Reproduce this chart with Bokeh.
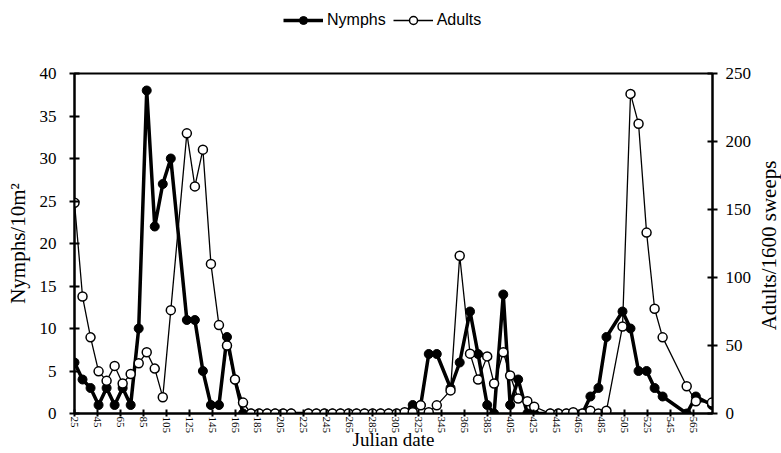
import math
from bokeh.plotting import figure
from bokeh.layouts import column, row
from bokeh.models import (Range1d, LinearAxis, FixedTicker, Legend, LegendItem,
                          ColumnDataSource, Label)
from bokeh.embed import file_html
from bokeh.resources import INLINE

# Sampling dates (Julian date) and counts
julian_date = [25, 32, 39, 46, 53, 60, 67, 74, 81, 88, 95, 102, 109,
               123, 130, 137, 144, 151, 158, 165, 172, 179, 186, 193, 200, 207, 214,
               229, 236, 243, 250, 257, 264, 271, 278, 285, 292, 299, 306, 313, 320, 327, 334, 341,
               353, 361, 370, 377, 385, 391, 399, 405, 412, 420, 426,
               440, 447, 454, 460, 468, 475, 482, 489,
               503, 510, 517, 524, 531, 538,
               559, 567, 581]

nymphs = [6, 4, 3, 1, 3, 1, 3, 1, 10, 38, 22, 27, 30,
          11, 11, 5, 1, 1, 9, 4, 0, 0, 0, 0, 0, 0, 0,
          0, 0, 0, 0, 0, 0, 0, 0, 0, 0, 0, 0, 0, 1, 1, 7, 7,
          3, 6, 12, 7, 1, 0, 14, 1, 4, 0, 0,
          0, 0, 0, 0, 0, 2, 3, 9,
          12, 10, 5, 5, 3, 2,
          0, 2, 1]

adults = [155, 86, 56, 31, 24, 35, 22, 29, 37, 45, 33, 12, 76,
          206, 167, 194, 110, 65, 50, 25, 8, 0, 0, 0, 0, 0, 0,
          0, 0, 0, 0, 0, 0, 0, 0, 0, 0, 0, 0, 1, 1, 6, 1, 6,
          17, 116, 44, 25, 42, 22, 45, 28, 11, 9, 5,
          0, 0, 0, 1, 0, 2, 0, 2,
          64, 235, 213, 133, 77, 56,
          20, 9, 8]

x_ticks = list(range(25, 566, 20))
nymph_ticks = list(range(0, 41, 5))
adult_ticks = list(range(0, 251, 50))

src = ColumnDataSource(dict(d=julian_date, n=nymphs, a=adults))

SERIF = "Liberation Serif"

# Page pieces: key strip on top, then the chart beside a strip for the right title
KEY_H = 42
SIDE_W = 22
MAIN_W = 781 - SIDE_W
MAIN_H = 453 - KEY_H
FRAME_TOP, FRAME_BOTTOM, FRAME_LEFT, FRAME_RIGHT = 73, 413, 74, 712

# Series styles, shared by the chart and the key strip
NYMPH_LINE = dict(line_color="black", line_width=3.5)
NYMPH_DOT = dict(size=9, marker="circle", fill_color="black", line_color="black", line_width=1)
ADULT_LINE = dict(line_color="black", line_width=1.3)
ADULT_DOT = dict(size=9, marker="circle", fill_color="white", line_color="black", line_width=1.5)


def strip(w, h, xr=(0, 1), yr=(0, 1)):
    f = figure(width=w, height=h, output_backend="svg", toolbar_location=None,
               x_range=Range1d(*xr), y_range=Range1d(*yr),
               min_border_left=0, min_border_right=0, min_border_top=0, min_border_bottom=0)
    f.axis.visible = False
    f.xgrid.visible = False
    f.ygrid.visible = False
    f.outline_line_color = None
    f.background_fill_color = "white"
    f.border_fill_color = "white"
    return f


p = figure(width=MAIN_W, height=MAIN_H, output_backend="svg", toolbar_location=None,
           x_range=Range1d(25, 581.5), y_range=Range1d(0, 40),
           min_border_left=FRAME_LEFT, min_border_right=MAIN_W - FRAME_RIGHT,
           min_border_top=FRAME_TOP - KEY_H,
           min_border_bottom=MAIN_H - (FRAME_BOTTOM - KEY_H))
p.extra_y_ranges = {"adults": Range1d(0, 250)}

p.xgrid.visible = False
p.ygrid.visible = False
p.outline_line_color = "black"
p.outline_line_width = 2
p.background_fill_color = "white"
p.border_fill_color = "white"


def style_axis(ax, label_size):
    ax.axis_line_color = "black"
    ax.axis_line_width = 2
    ax.major_tick_line_color = "black"
    ax.major_tick_line_width = 2
    ax.major_tick_in = 5
    ax.major_tick_out = 5
    ax.minor_tick_line_color = None
    ax.major_label_text_font = SERIF
    ax.major_label_text_font_size = label_size
    ax.major_label_text_color = "black"
    ax.axis_label_text_font = SERIF
    ax.axis_label_text_font_style = "normal"
    ax.axis_label_text_color = "black"


xa = p.xaxis[0]
xa.ticker = FixedTicker(ticks=x_ticks)
xa.major_label_orientation = "vertical"
xa.axis_label = "Julian date"
style_axis(xa, "11px")
xa.axis_label_text_font_size = "19px"
xa.major_tick_out = 3
xa.major_tick_in = 4
xa.major_label_standoff = 0
xa.axis_label_standoff = -7

ya = p.yaxis[0]
ya.ticker = FixedTicker(ticks=nymph_ticks)
ya.axis_label = "Nymphs/10m²"
style_axis(ya, "17px")
ya.axis_label_text_font_size = "21px"
ya.major_label_standoff = 13
ya.axis_label_standoff = 7

ra = LinearAxis(y_range_name="adults", ticker=FixedTicker(ticks=adult_ticks))
style_axis(ra, "17px")
ra.major_label_standoff = 8
p.add_layout(ra, "right")

# Nymphs: thick line with filled dots
p.line("d", "n", source=src, **NYMPH_LINE)
p.scatter("d", "n", source=src, **NYMPH_DOT)

# Adults: thin line with open dots, drawn on top
p.line("d", "a", source=src, y_range_name="adults", **ADULT_LINE)
p.scatter("d", "a", source=src, y_range_name="adults", **ADULT_DOT)

# Right-hand axis title, reading upward (its frame lines up with the chart frame)
side = strip(SIDE_W, MAIN_H)
side.add_layout(Label(x=9, y=168, x_units="screen", y_units="screen",
                      text="Adults/1600 sweeps", angle=math.pi / 2,
                      text_align="center", text_baseline="middle",
                      text_font=SERIF, text_font_size="21px", text_color="black"))

# Key strip; its ranges keep the series themselves out of view
k = strip(781, KEY_H, yr=(-2, -1))
kn_l = k.line("d", "n", source=src, **NYMPH_LINE)
kn_s = k.scatter("d", "n", source=src, **NYMPH_DOT)
ka_l = k.line("d", "a", source=src, **ADULT_LINE)
ka_s = k.scatter("d", "a", source=src, **ADULT_DOT)

legend = Legend(items=[LegendItem(label="Nymphs", renderers=[kn_l, kn_s]),
                       LegendItem(label="Adults", renderers=[ka_l, ka_s])],
                orientation="horizontal", location=(283, 12))
legend.glyph_width = 40
legend.label_standoff = 4
legend.spacing = 7
legend.padding = 0
legend.margin = 0
legend.border_line_alpha = 0
legend.background_fill_alpha = 0
legend.label_text_font = "Liberation Sans"
legend.label_text_font_size = "16px"
legend.label_text_color = "black"
k.add_layout(legend)

page = column(k, row(p, side, spacing=0), spacing=0)
open("out.html", "w").write(file_html(page, INLINE))
